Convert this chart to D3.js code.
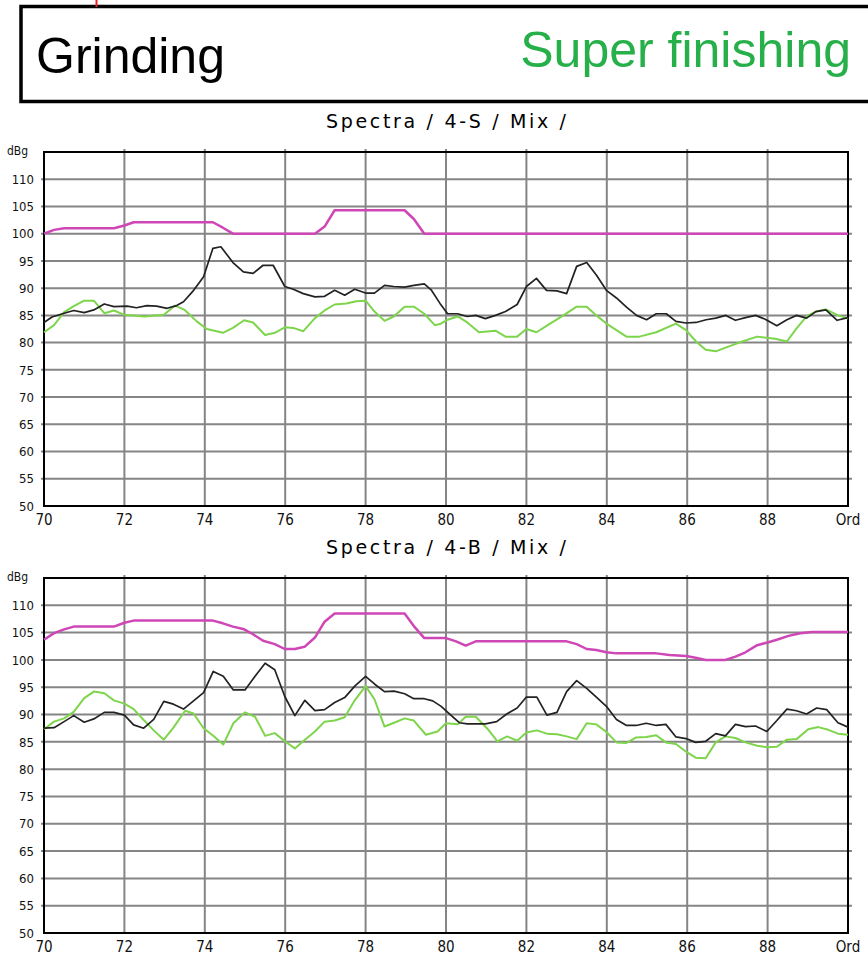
<!DOCTYPE html>
<html>
<head>
<meta charset="utf-8">
<script src="https://cdn.jsdelivr.net/npm/d3@7"></script>
<style>
  html, body { margin: 0; padding: 0; background: #fff; }
  svg { display: block; }
</style>
</head>
<body>
<svg id="chart" width="868" height="960"></svg>
<script>
// ---- Axis ticks ----
const xTicks = [70, 72, 74, 76, 78, 80, 82, 84, 86, 88];
const xLastLabel = "Ord";
const yTicks = [50, 55, 60, 65, 70, 75, 80, 85, 90, 95, 100, 105, 110];
const yUnit = "dBg";

// ---- Panel titles ----
const panelTitles = ["Spectra / 4-S / Mix /", "Spectra / 4-B / Mix /"];
const headerLeft = "Grinding";
const headerRight = "Super finishing";

// ---- 4-S spectra: [order, dBg] ----
const s4Limit = [
  [70,100],[70.25,100.7],[70.5,101],[71.74,101],[72,101.5],[72.23,102.1],[74.2,102.1],
  [74.45,101.1],[74.7,100],[76.74,100],[76.98,101.3],[77.23,104.3],[78.97,104.3],
  [79.2,102.7],[79.46,100],[90,100]
];
const s4Grinding = [
  [70,83.7],[70.2,84.7],[70.5,85.4],[70.74,85.9],[71,85.5],[71.24,86],[71.5,87.1],
  [71.74,86.6],[72.07,86.7],[72.3,86.4],[72.56,86.8],[72.8,86.7],[73.06,86.3],[73.3,86.8],
  [73.47,87.5],[73.7,89.4],[73.97,92.1],[74.2,97.3],[74.4,97.6],[74.7,94.7],[74.96,93],
  [75.2,92.7],[75.45,94.2],[75.7,94.2],[75.99,90.3],[76.2,89.8],[76.45,89],[76.74,88.4],
  [76.98,88.5],[77.23,89.6],[77.48,88.7],[77.73,89.8],[78,89.1],[78.22,89.1],[78.47,90.5],
  [78.7,90.3],[78.97,90.2],[79.2,90.5],[79.46,90.8],[79.63,89.7],[79.85,87.2],[80.04,85.3],
  [80.29,85.3],[80.53,84.8],[80.74,85],[80.98,84.4],[81.23,85],[81.48,85.7],[81.77,87],
  [82,90.3],[82.25,91.8],[82.5,89.6],[82.76,89.5],[83,89],[83.25,94],[83.5,94.7],
  [83.74,92.4],[83.99,89.6],[84.24,88.2],[84.49,86.5],[84.74,85],[84.99,84.2],[85.23,85.3],
  [85.48,85.3],[85.72,83.9],[85.97,83.6],[86.22,83.7],[86.47,84.2],[86.71,84.5],[86.96,85],
  [87.2,84.1],[87.45,84.6],[87.7,85],[87.94,84.3],[88.23,83.1],[88.48,84.2],[88.72,85],
  [88.97,84.5],[89.2,85.7],[89.45,86],[89.73,84.1],[90,84.6]
];
const s4Finishing = [
  [70,81.9],[70.25,83.2],[70.5,85.6],[70.74,86.7],[71,87.7],[71.24,87.7],[71.5,85.4],
  [71.74,85.9],[72,85.1],[72.5,84.8],[72.98,85.1],[73.26,86.8],[73.5,86],[73.8,83.9],
  [74.05,82.5],[74.45,81.8],[74.7,82.7],[74.98,84.1],[75.2,83.7],[75.5,81.4],[75.74,81.8],
  [75.99,82.8],[76.2,82.7],[76.45,82.1],[76.74,84.5],[76.98,85.9],[77.23,87],[77.52,87.2],
  [77.77,87.6],[78,87.7],[78.22,85.7],[78.47,84],[78.7,84.8],[78.97,86.6],[79.2,86.6],
  [79.46,85.3],[79.72,83.2],[79.85,83.4],[80.04,84.2],[80.29,84.8],[80.53,83.7],[80.82,81.9],
  [81.23,82.2],[81.48,81.1],[81.77,81.1],[82,82.5],[82.25,81.9],[82.59,83.5],[82.92,85],
  [83.25,86.6],[83.5,86.6],[83.74,85],[83.99,83.5],[84.24,82.3],[84.49,81.1],[84.81,81.1],
  [85.23,81.9],[85.72,83.5],[85.97,82.3],[86.22,80.2],[86.46,78.7],[86.71,78.4],[87.04,79.3],
  [87.37,80.2],[87.74,81.1],[88.19,80.7],[88.48,80.2],[88.72,82.6],[88.97,84.8],[89.2,85.7],
  [89.45,86.1],[89.73,85.1],[90,84.4]
];

// ---- 4-B spectra: [order, dBg] ----
const b4Limit = [
  [70,103.7],[70.25,104.9],[70.5,105.6],[70.74,106.1],[71.74,106.1],[72,106.8],[72.23,107.2],
  [74.2,107.2],[74.45,106.7],[74.7,106.1],[74.98,105.6],[75.2,104.7],[75.45,103.5],
  [75.74,102.9],[75.99,102],[76.24,102],[76.48,102.4],[76.74,104.1],[76.98,107],[77.23,108.5],
  [78.97,108.5],[79.2,106.2],[79.46,104],[80,104],[80.25,103.4],[80.49,102.6],[80.74,103.4],
  [81.03,103.4],[83,103.4],[83.25,102.9],[83.5,102],[83.74,101.8],[83.99,101.4],[84.24,101.2],
  [85.23,101.2],[85.56,100.9],[85.97,100.7],[86.21,100.4],[86.46,100],[86.95,100],[87.2,100.6],
  [87.45,101.4],[87.74,102.7],[88,103.2],[88.23,103.7],[88.52,104.4],[88.81,104.9],[89.1,105.1],
  [90,105.1]
];
const b4Grinding = [
  [70,87.5],[70.25,87.6],[70.5,88.7],[70.74,89.8],[71,88.6],[71.24,89.2],[71.5,90.4],
  [71.74,90.4],[72,89.9],[72.23,88.1],[72.48,87.5],[72.73,89.1],[72.98,92.4],[73.22,91.9],
  [73.47,91],[73.72,92.5],[73.97,94],[74.21,97.9],[74.46,97],[74.71,94.5],[75,94.5],
  [75.25,97],[75.5,99.4],[75.74,98.2],[75.99,93.3],[76.24,89.8],[76.49,92.6],[76.74,90.7],
  [76.98,90.9],[77.23,92.2],[77.48,93.1],[77.73,95.2],[78,97],[78.22,95.6],[78.47,94.2],
  [78.71,94.3],[78.97,93.8],[79.2,92.9],[79.46,92.9],[79.67,92.5],[79.88,91.5],[80.12,89.9],
  [80.33,88.5],[80.53,88.3],[80.98,88.3],[81.26,88.7],[81.51,90.1],[81.77,91.2],[82,93.2],
  [82.26,93.2],[82.51,89.9],[82.76,90.4],[83,94.2],[83.25,96.2],[83.5,94.8],[83.74,93.2],
  [83.99,91.5],[84.24,89.1],[84.49,88],[84.73,88],[84.98,88.4],[85.23,88],[85.47,88.2],
  [85.72,85.9],[85.97,85.6],[86.21,84.9],[86.46,85.1],[86.71,86.5],[86.95,86.1],[87.2,88.2],
  [87.45,87.8],[87.7,87.9],[87.98,86.9],[88.23,88.9],[88.48,91],[88.72,90.7],[88.97,90.1],
  [89.22,91.2],[89.47,90.9],[89.75,88.5],[90,87.7]
];
const b4Finishing = [
  [70,87.3],[70.25,88.7],[70.5,89.3],[70.74,90.5],[71,93],[71.24,94.2],[71.5,93.9],
  [71.74,92.6],[72,92],[72.23,91],[72.48,89],[72.73,87.1],[72.98,85.4],[73.22,87.6],
  [73.51,90.7],[73.72,90.2],[73.97,87.5],[74.21,86.1],[74.46,84.5],[74.71,88.4],[75,90.4],
  [75.25,89.6],[75.5,86.1],[75.74,86.6],[75.99,85.1],[76.24,83.8],[76.49,85.4],[76.74,86.9],
  [76.98,88.7],[77.23,88.9],[77.48,89.5],[77.73,92.6],[78,95.2],[78.22,92.8],[78.47,87.8],
  [78.71,88.5],[78.97,89.3],[79.2,88.9],[79.5,86.3],[79.79,86.9],[80,88.4],[80.29,88.2],
  [80.49,89.6],[80.74,89.6],[81.03,87.4],[81.28,85.1],[81.52,86],[81.77,85.2],[82,86.7],
  [82.26,87.1],[82.51,86.5],[82.76,86.4],[83,86],[83.25,85.5],[83.5,88.4],[83.74,88.2],
  [83.99,86.8],[84.24,84.9],[84.49,84.8],[84.73,85.8],[84.98,85.9],[85.23,86.2],[85.47,84.9],
  [85.72,84.6],[85.97,83.2],[86.21,82.1],[86.46,82],[86.71,84.9],[86.95,86],[87.2,85.7],
  [87.45,84.9],[87.74,84.3],[87.98,84],[88.23,84.1],[88.48,85.4],[88.72,85.5],[89.01,87.3],
  [89.26,87.7],[89.51,87.2],[89.75,86.5],[90,86.3]
];

// ---- Drawing ----
const svg = d3.select("#chart");
const colors = { limit: "#cf46b6", grinding: "#222222", finishing: "#7ed54c" };
const gridColor = "#858585";
const tickFont = "'DejaVu Sans Condensed', 'Liberation Sans Narrow', 'DejaVu Sans', sans-serif";
const titleFont = "'DejaVu Sans', sans-serif";

// header box
svg.append("rect")
  .attr("x", 21).attr("y", 6.5).attr("width", 860).attr("height", 95)
  .attr("fill", "none").attr("stroke", "#000").attr("stroke-width", 3.5);
svg.append("line")
  .attr("x1", 96.5).attr("x2", 96.5).attr("y1", 0).attr("y2", 7)
  .attr("stroke", "#e8201c").attr("stroke-width", 2);
svg.append("text")
  .attr("x", 36).attr("y", 73)
  .attr("font-family", "'Liberation Sans', Arial, sans-serif").attr("font-size", 50)
  .attr("fill", "#000").text(headerLeft);
svg.append("text")
  .attr("x", 851).attr("y", 67).attr("text-anchor", "end")
  .attr("font-family", "'Liberation Sans', Arial, sans-serif").attr("font-size", 50)
  .attr("fill", "#27b04a").text(headerRight);

const x = d3.scaleLinear().domain([70, 90]);

function panel(top, bottom, title, series) {
  const left = 44, right = 848;
  x.range([left, right]);
  const y = d3.scaleLinear().domain([50, 115]).range([bottom, top]);
  const g = svg.append("g");

  // title
  g.append("text")
    .attr("x", 446).attr("y", top - 24).attr("text-anchor", "middle")
    .attr("font-family", titleFont).attr("font-size", 19)
    .attr("textLength", 240).attr("lengthAdjust", "spacing")
    .attr("fill", "#000").text(title);

  // horizontal grid
  g.selectAll(".hg").data(yTicks.filter(v => v > 50)).join("line")
    .attr("x1", left - 3).attr("x2", right + 4)
    .attr("y1", d => y(d)).attr("y2", d => y(d))
    .attr("stroke", gridColor).attr("stroke-width", 2);
  // vertical grid
  g.selectAll(".vg").data(xTicks.filter(v => v > 70)).join("line")
    .attr("x1", d => x(d)).attr("x2", d => x(d))
    .attr("y1", top - 3).attr("y2", bottom)
    .attr("stroke", gridColor).attr("stroke-width", 2);

  // frame
  g.append("rect")
    .attr("x", left).attr("y", top).attr("width", right - left).attr("height", bottom - top)
    .attr("fill", "none").attr("stroke", "#000").attr("stroke-width", 2);

  // y labels
  g.selectAll(".yl").data(yTicks).join("text")
    .attr("x", 34).attr("y", d => y(d)).attr("dy", "0.36em")
    .attr("text-anchor", "end")
    .attr("font-family", tickFont).attr("font-size", 13).attr("fill", "#111")
    .text(d => d);
  g.append("text")
    .attr("x", 7).attr("y", top + 2).attr("dy", "0.1em")
    .attr("font-family", tickFont).attr("font-size", 12).attr("fill", "#111")
    .text(yUnit);

  // x labels
  g.selectAll(".xl").data(xTicks).join("text")
    .attr("x", d => x(d)).attr("y", bottom + 19)
    .attr("text-anchor", "middle")
    .attr("font-family", tickFont).attr("font-size", 15).attr("fill", "#111")
    .text(d => d);
  g.append("text")
    .attr("x", x(90)).attr("y", bottom + 19).attr("text-anchor", "middle")
    .attr("font-family", tickFont).attr("font-size", 15).attr("fill", "#111")
    .text(xLastLabel);

  const line = d3.line().x(d => x(d[0])).y(d => y(d[1]));
  series.forEach(s => {
    g.append("path").datum(s.data)
      .attr("d", line)
      .attr("fill", "none").attr("stroke", s.color).attr("stroke-width", s.width)
      .attr("stroke-linejoin", "round");
  });
}

panel(152, 506, panelTitles[0], [
  { data: s4Limit, color: colors.limit, width: 2.5 },
  { data: s4Finishing, color: colors.finishing, width: 2 },
  { data: s4Grinding, color: colors.grinding, width: 1.7 }
]);
panel(578, 933, panelTitles[1], [
  { data: b4Limit, color: colors.limit, width: 2.5 },
  { data: b4Finishing, color: colors.finishing, width: 2 },
  { data: b4Grinding, color: colors.grinding, width: 1.7 }
]);
</script>
</body>
</html>
